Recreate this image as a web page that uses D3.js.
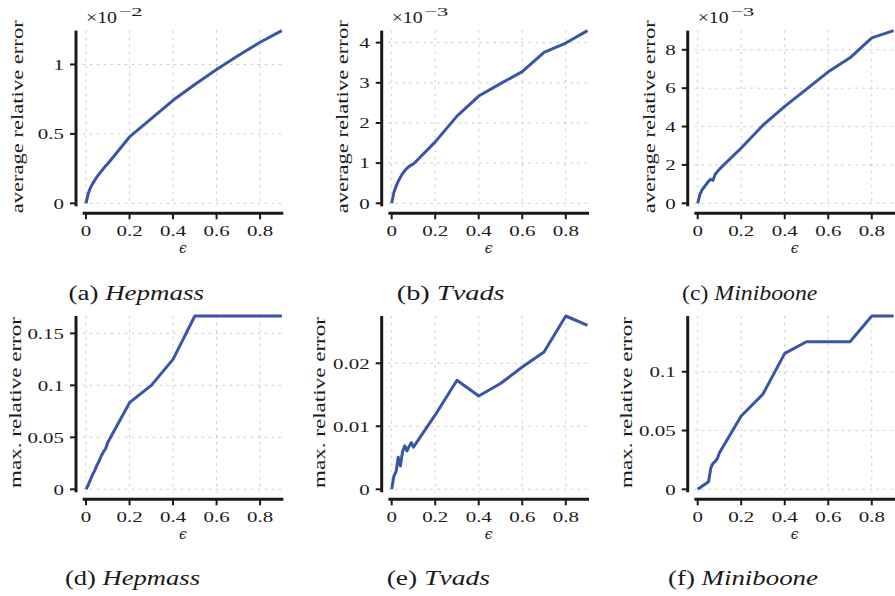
<!DOCTYPE html>
<html><head><meta charset="utf-8">
<script src="https://cdn.jsdelivr.net/npm/d3@7"></script>
<style>
body{margin:0;background:#fff}
svg{display:block}
text{font-family:"Liberation Serif","Times New Roman",serif;fill:#1a1a1a}
</style>
</head><body><svg id="chart" width="895" height="596"></svg>
<script>
// ---- data ----
const eps = [0,0.01,0.02,0.03,0.04,0.05,0.06,0.07,0.08,0.09,0.1,0.2,0.3,0.4,0.5,0.6,0.7,0.8,0.9];
// average relative error (shown in units of 10^-2 / 10^-3)
const avgHepmass   = [0,0.07,0.11,0.14,0.165,0.19,0.21,0.23,0.25,0.27,0.285,0.478,0.61,0.742,0.856,0.964,1.065,1.16,1.244];
const avgTvads     = [0,0.27,0.42,0.55,0.65,0.74,0.81,0.87,0.92,0.95,0.98,1.53,2.17,2.67,2.98,3.28,3.76,3.99,4.30];
const avgMiniboone = [0,0.45,0.7,0.85,1.0,1.15,1.25,1.2,1.5,1.65,1.78,2.88,4.07,5.05,5.95,6.85,7.58,8.62,9.0];
// max. relative error
const maxHepmass   = [0,0.004,0.009,0.014,0.018,0.023,0.027,0.032,0.036,0.039,0.045,0.0833,0.1,0.125,0.1667,0.1667,0.1667,0.1667,0.1667];
const maxTvads     = [0,0.0021,0.0028,0.0051,0.0037,0.006,0.0069,0.0061,0.0068,0.0074,0.0067,0.0118,0.0173,0.0148,0.0168,0.0194,0.0218,0.0275,0.026];
const maxMiniboone = [0,0.0013,0.0026,0.0039,0.0052,0.0065,0.018,0.022,0.0235,0.026,0.031,0.0623,0.081,0.1156,0.1255,0.1255,0.1255,0.1474,0.1474];

const xTicks = [0,0.2,0.4,0.6,0.8];
const xTickLabels = ["0","0.2","0.4","0.6","0.8"];
const yTicksA = [0,0.5,1],            yTickLabelsA = ["0","0.5","1"];
const yTicksB = [0,1,2,3,4],          yTickLabelsB = ["0","1","2","3","4"];
const yTicksC = [0,2,4,6,8],          yTickLabelsC = ["0","2","4","6","8"];
const yTicksD = [0,0.05,0.1,0.15],    yTickLabelsD = ["0","0.05","0.1","0.15"];
const yTicksE = [0,0.01,0.02],        yTickLabelsE = ["0","0.01","0.02"];
const yTicksF = [0,0.05,0.1],         yTickLabelsF = ["0","0.05","0.1"];
const yLabels = ["average relative error","max. relative error"];
const xLabel = "ϵ";
const exponents = ["−2","−3","−3"];
const captionTags = ["(a)","(b)","(c)","(d)","(e)","(f)"];
const captionNames = ["Hepmass","Tvads","Miniboone","Hepmass","Tvads","Miniboone"];

// ---- layout ----
const colX0 = [86, 391.7, 697.7];       // pixel of eps=0
const pxPerEps = 217.6;
const rowY0 = [203.3, 489.3];           // pixel of value 0
const rowTop = [30.6, 316];             // pixel of data max
const labelX = [[23,348.3,655],[20.5,325,632]];
const labelCY = [116.8, 402.5];
const labelLen = [193, 171];
const capLeft = [[68.5,396.7,682],[65,386.7,668]];
const capWidth = [[135.5,108,135.4],[135,103.3,150]];
const capBase = [300, 585.5];
const lineColor = "#3a55a6";
const ink = "#1a1a1a";
const tickFS = 15.5, tickSX = 1.35;

const panels = [
  {vals: avgHepmass, yt: yTicksA, yl: yTickLabelsA},
  {vals: avgTvads, yt: yTicksB, yl: yTickLabelsB},
  {vals: avgMiniboone, yt: yTicksC, yl: yTickLabelsC},
  {vals: maxHepmass, yt: yTicksD, yl: yTickLabelsD},
  {vals: maxTvads, yt: yTicksE, yl: yTickLabelsE},
  {vals: maxMiniboone, yt: yTicksF, yl: yTickLabelsF}
];

const svg = d3.select("#chart");

panels.forEach((p, i) => {
  const row = Math.floor(i / 3), col = i % 3;
  const xMax = d3.max(eps);
  const x = d3.scaleLinear().domain([0, xMax]).range([colX0[col], colX0[col] + xMax * pxPerEps]);
  const y = d3.scaleLinear().domain([0, d3.max(p.vals)]).range([rowY0[row], rowTop[row]]);
  const left = x(0) - 3.3, right = x(xMax) + 1.5;
  const top = y.range()[1], bottom = y(0) + 3;
  const ySpineX = x(0) - 10, xSpineY = y(0) + 10;
  const g = svg.append("g");

  // grid
  g.selectAll(".vg").data(xTicks).join("line")
    .attr("x1", d => x(d)).attr("x2", d => x(d)).attr("y1", top).attr("y2", bottom)
    .attr("stroke", "#cccccc").attr("stroke-width", 1).attr("stroke-dasharray", "2.5,4.5");
  g.selectAll(".hg").data(p.yt).join("line")
    .attr("x1", left).attr("x2", right).attr("y1", d => y(d)).attr("y2", d => y(d))
    .attr("stroke", "#cccccc").attr("stroke-width", 1).attr("stroke-dasharray", "2.5,4.5");

  // spines
  g.append("line").attr("x1", ySpineX).attr("x2", ySpineX).attr("y1", top).attr("y2", bottom)
    .attr("stroke", ink).attr("stroke-width", 3);
  g.append("line").attr("x1", left).attr("x2", right).attr("y1", xSpineY).attr("y2", xSpineY)
    .attr("stroke", ink).attr("stroke-width", 3);

  // y ticks
  g.selectAll(".yt").data(p.yt).join("line")
    .attr("x1", ySpineX - 6).attr("x2", ySpineX).attr("y1", d => y(d)).attr("y2", d => y(d))
    .attr("stroke", ink).attr("stroke-width", 2);
  g.selectAll(".ytl").data(p.yt).join("text")
    .attr("transform", d => `translate(${ySpineX - 12},${y(d)}) scale(${tickSX},1)`)
    .attr("text-anchor", "end").attr("dy", "0.34em").attr("font-size", tickFS)
    .text((d, k) => p.yl[k]);

  // x ticks
  g.selectAll(".xt").data(xTicks).join("line")
    .attr("x1", d => x(d)).attr("x2", d => x(d)).attr("y1", xSpineY).attr("y2", xSpineY + 6)
    .attr("stroke", ink).attr("stroke-width", 2);
  g.selectAll(".xtl").data(xTicks).join("text")
    .attr("transform", d => `translate(${x(d)},${xSpineY + 22.5}) scale(${tickSX},1)`)
    .attr("text-anchor", "middle").attr("font-size", tickFS)
    .text((d, k) => xTickLabels[k]);

  // x label
  g.append("text").attr("x", (left + right) / 2).attr("y", xSpineY + 39.5)
    .attr("text-anchor", "middle").attr("font-size", 14).attr("font-style", "italic")
    .style("font-family", "'DejaVu Serif', serif").text(xLabel);

  // y label
  g.append("text")
    .attr("transform", `translate(${labelX[row][col]},${labelCY[row]}) rotate(-90)`)
    .attr("text-anchor", "middle").attr("font-size", 17)
    .attr("textLength", labelLen[row]).attr("lengthAdjust", "spacingAndGlyphs")
    .text(yLabels[row]);

  // offset text (×10^k)
  if (row === 0) {
    g.append("text").attr("x", x(0)).attr("y", 23).attr("font-size", 16.5)
      .attr("textLength", 31).attr("lengthAdjust", "spacingAndGlyphs").text("×10");
    g.append("text").attr("x", x(0) + 32.5).attr("y", 15.5).attr("font-size", 12.5)
      .attr("textLength", 24).attr("lengthAdjust", "spacingAndGlyphs").text(exponents[col]);
  }

  // line
  const line = d3.line().x((d, k) => x(eps[k])).y(d => y(d));
  g.append("path").datum(p.vals).attr("d", line)
    .attr("fill", "none").attr("stroke", lineColor).attr("stroke-width", 3)
    .attr("stroke-linejoin", "round").attr("stroke-linecap", "butt");

  // caption
  const cap = svg.append("text").attr("x", capLeft[row][col]).attr("y", capBase[row] - 0.5)
    .attr("font-size", 20).attr("textLength", capWidth[row][col]).attr("lengthAdjust", "spacingAndGlyphs");
  cap.append("tspan").text(captionTags[i] + " ");
  cap.append("tspan").attr("font-style", "italic").text(captionNames[i]);
});
</script>
</body></html>
